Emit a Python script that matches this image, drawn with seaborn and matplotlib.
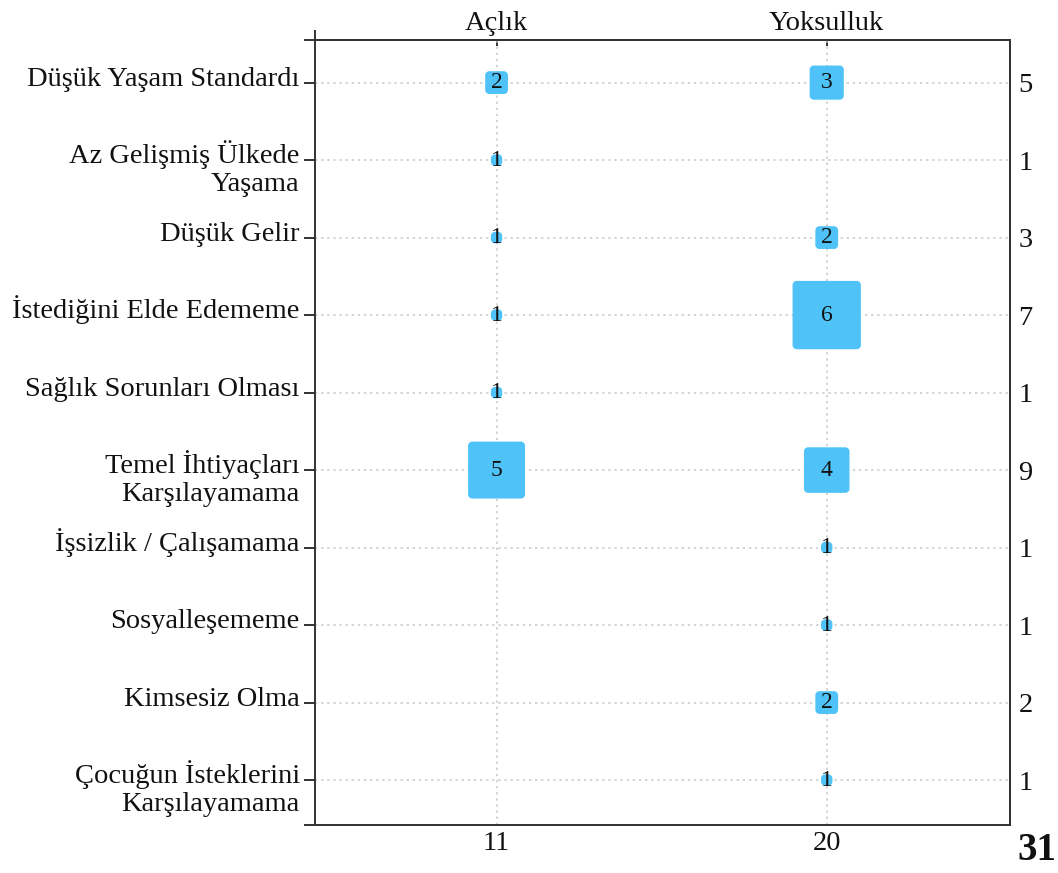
import numpy as np
import pandas as pd
import matplotlib.pyplot as plt
from matplotlib.path import Path
from matplotlib.transforms import ScaledTranslation
import seaborn as sns

# Dados da tabela
satirlar = [
    "Düşük Yaşam Standardı",
    "Az Gelişmiş Ülkede\nYaşama",
    "Düşük Gelir",
    "İstediğini Elde Edememe",
    "Sağlık Sorunları Olması",
    "Temel İhtiyaçları\nKarşılayamama",
    "İşsizlik / Çalışamama",
    "Sosyalleşememe",
    "Kimsesiz Olma",
    "Çocuğun İsteklerini\nKarşılayamama",
]
sutunlar = ["Açlık", "Yoksulluk"]
aclik = [2, 1, 1, 1, 1, 5, 0, 0, 0, 0]
yoksulluk = [3, 0, 2, 6, 0, 4, 1, 1, 2, 1]

satir_toplam = [a + y for a, y in zip(aclik, yoksulluk)]
sutun_toplam = [sum(aclik), sum(yoksulluk)]
genel_toplam = sum(satir_toplam)

KOYU = "#333333"
MAVI = "#4fc3f7"
YAZI = "#111111"

# Formato longo para o seaborn
registros = []
for j, valores in enumerate([aclik, yoksulluk]):
    for i, v in enumerate(valores):
        if v > 0:
            registros.append({"sutun": j, "satir": i, "deger": v})
df = pd.DataFrame(registros)


# Marcador quadrado com cantos arredondados
def kare_yuvarlak(r):
    pts = []
    c = 1 - r
    for cx, cy, a0 in [(c, c, 0), (-c, c, 90), (-c, -c, 180), (c, -c, 270)]:
        for t in np.radians(np.linspace(a0, a0 + 90, 12)):
            pts.append((cx + r * np.cos(t), cy + r * np.sin(t)))
    pts.append(pts[0])
    return Path(pts, closed=True)


birim = 8.2  # pontos por unidade
kose = 3.0
degerler = sorted(df["deger"].unique())
boyutlar = {v: (birim * v) ** 2 for v in degerler}
isaretler = {v: kare_yuvarlak(min(1.0, kose / (birim * v / 2))) for v in degerler}

sns.set_theme(style="white")
plt.rcParams["font.family"] = ["Liberation Serif", "DejaVu Serif"]

fig = plt.figure(figsize=(10.58, 8.73), dpi=100)
ax = fig.add_axes([0.2977, 0.055, 0.9546 - 0.2977, 0.9542 - 0.055])

sns.scatterplot(
    data=df,
    x="sutun",
    y="satir",
    size="deger",
    sizes=boyutlar,
    style="deger",
    markers=isaretler,
    color=MAVI,
    linewidth=0,
    legend=False,
    ax=ax,
    zorder=3,
)

for _, r in df.iterrows():
    ax.text(r["sutun"], r["satir"], str(int(r["deger"])), ha="center", va="center",
            fontsize=17, color=YAZI, zorder=4)

ax.set_xlim(-0.55, 1.555)
ax.set_ylim(9.58, -0.55)
ax.set_xlabel("")
ax.set_ylabel("")

# Grade pontilhada
ax.set_axisbelow(True)
ax.grid(True, linestyle=(0, (1.5, 2.5)), color="#c8c8c8", linewidth=1.1)

# Eixo esquerdo: categorias
ax.set_yticks(range(len(satirlar)))
ax.set_yticklabels(satirlar, fontsize=20.5, va="baseline", linespacing=1.17, color=YAZI)
ax.set_yticks([9.58, -0.55], minor=True)
ax.tick_params(axis="y", which="both", left=True, direction="out", length=8,
               width=1.4, color=KOYU, pad=3)
# rótulos de duas linhas: a primeira linha fica na altura do tick
for rotulo in ax.get_yticklabels():
    n = rotulo.get_text().count("\n")
    desl = -(0.03 + n * 0.28)
    rotulo.set_transform(rotulo.get_transform() + ScaledTranslation(0, desl, fig.dpi_scale_trans))

# Eixo inferior: totais das colunas
ax.set_xticks([0, 1])
ax.set_xticklabels([str(t) for t in sutun_toplam], fontsize=20.5, color=YAZI)
ax.tick_params(axis="x", which="both", bottom=True, length=0, pad=4)

for s in ax.spines.values():
    s.set_color(KOYU)
    s.set_linewidth(1.4)

# Eixo superior: nomes das colunas
ax_ust = ax.secondary_xaxis("top")
ax_ust.set_xticks([0, 1], labels=sutunlar, fontsize=20.5, color=YAZI)
ax_ust.set_xticks([-0.55], minor=True)
ax_ust.tick_params(axis="x", which="major", direction="in", length=4, width=1.4,
                   color=KOYU, pad=3)
ax_ust.tick_params(axis="x", which="minor", direction="out", length=7, width=1.4,
                   color=KOYU)
ax_ust.spines["top"].set_linewidth(1.4)
ax_ust.spines["top"].set_color(KOYU)

# Eixo direito: totais das linhas
ax_sag = ax.secondary_yaxis("right")
ax_sag.set_yticks(range(len(satirlar)), labels=[str(t) for t in satir_toplam],
                  fontsize=20.5, color=YAZI)
ax_sag.tick_params(axis="y", length=0, pad=6)
ax_sag.spines["right"].set_linewidth(1.4)
ax_sag.spines["right"].set_color(KOYU)

# Total geral
fig.text(0.980, 0.026, str(genel_toplam), ha="center", va="center",
         fontsize=28, fontweight="bold", color=YAZI)

plt.savefig("out.png", dpi=100)
